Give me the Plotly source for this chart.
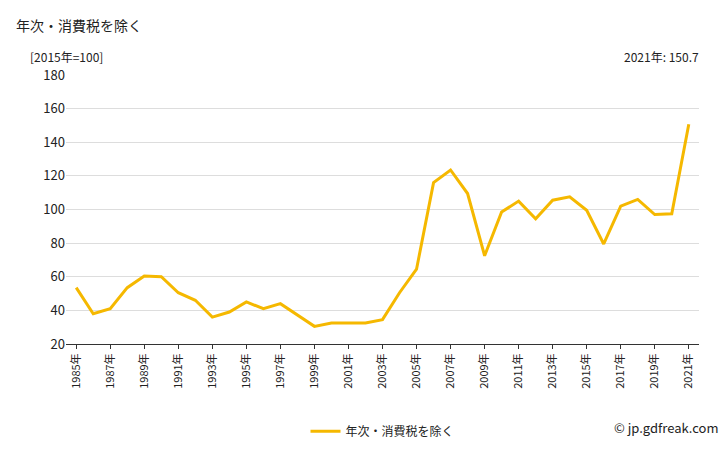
import plotly.graph_objects as go

years = list(range(1985, 2022))
values = [53.5, 38, 41, 53.5, 60.5, 60, 50.5, 46, 36, 39, 45, 41, 44, 37, 30.5, 32.5, 32.5, 32.5, 34.5,
          50.5, 64.5, 116, 123.5, 109.5, 72.5, 98.5, 105, 94.5, 105.5, 107.5, 99.5, 79.5, 102, 106, 97, 97.5, 150.7]
tick_years = list(range(1985, 2022, 2))
tick_labels = [f"{y}年" for y in tick_years]
series_name = "年次・消費税を除く"

fig = go.Figure(go.Scatter(x=years, y=values, mode="lines", name=series_name,
                           line=dict(color="#f5b800", width=3)))
font = "Noto Sans CJK JP"
fig.update_layout(
    width=728, height=450, plot_bgcolor="white", paper_bgcolor="white",
    font=dict(family=font, size=12, color="#222"),
    margin=dict(l=58, r=37, t=67, b=86),
    showlegend=True,
    legend=dict(orientation="h", x=0.5, xanchor="center", y=-0.27, yanchor="top", font=dict(size=12)),
    xaxis=dict(range=[1984.4, 2021.6], tickvals=tick_years, ticktext=tick_labels, tickangle=-90,
               tickfont=dict(size=11),
               showgrid=False, showline=True, linecolor="#333", ticks="outside", ticklen=4, tickcolor="#333"),
    yaxis=dict(range=[20, 180], dtick=20, showgrid=True, gridcolor="#ddd", zeroline=False,
               tickfont=dict(size=13), showline=False),
    annotations=[
        dict(text="年次・消費税を除く", x=0, y=1, xref="paper", yref="paper", xanchor="left", yanchor="top",
             xshift=-52, yshift=62, showarrow=False, font=dict(size=14)),
        dict(text="[2015年=100]", x=0, y=1, xref="paper", yref="paper", xanchor="left", yanchor="bottom",
             xshift=-38, yshift=8, showarrow=False, font=dict(size=12)),
        dict(text="2021年: 150.7", x=1, y=1, xref="paper", yref="paper", xanchor="right", yanchor="bottom",
             xshift=2, yshift=8, showarrow=False, font=dict(size=12)),
        dict(text="© jp.gdfreak.com", x=1, y=0, xref="paper", yref="paper", xanchor="right", yanchor="top",
             xshift=22, yshift=-72, showarrow=False, font=dict(size=13)),
    ],
)
fig.write_html("out.html")
